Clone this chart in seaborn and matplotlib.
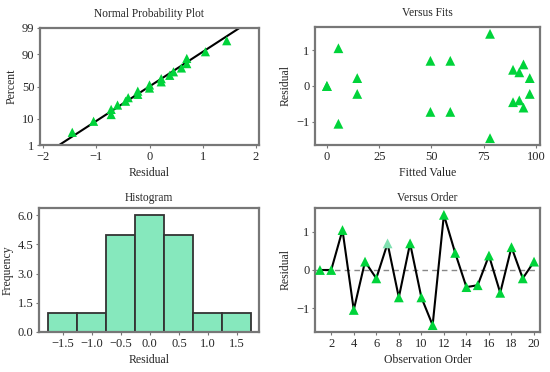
import numpy as np
import pandas as pd
import matplotlib
matplotlib.use("Agg")
import matplotlib.pyplot as plt
import seaborn as sns
from statistics import NormalDist

# residuals in observation order, and the fitted values they belong to
order = list(range(1, 21))
residual = [0.0, 0.0, 1.05, -1.05, 0.22, -0.22, 0.70, -0.72, 0.70, -0.72,
            -1.45, 1.45, 0.45, -0.45, -0.40, 0.38, -0.60, 0.60, -0.22, 0.22]
fitted = [0.0, 0.0, 5.5, 5.5, 14.5, 14.5, 49.5, 49.5, 59.0, 59.0,
          78.0, 78.0, 89.0, 89.0, 92.0, 92.0, 94.0, 94.0, 97.0, 97.0]
prob_ticks = [1, 10, 50, 90, 99]
hist_ticks = [-1.5, -1.0, -0.5, 0.0, 0.5, 1.0, 1.5]
freq_ticks = [0.0, 1.5, 3.0, 4.5, 6.0]

df = pd.DataFrame({"Order": order, "Residual": residual, "Fitted": fitted})

sns.set_theme(style="white")
plt.rcParams["font.family"] = ["Liberation Serif", "DejaVu Serif"]
plt.rcParams["font.size"] = 9

green = "#00d33a"
frame = "#777777"
nd = NormalDist()
tsize = 8.3
lsize = 8.5

fig = plt.figure(figsize=(5.5, 3.72), dpi=100)
W, H = 550, 372
def box(l, t, r, b):
    return fig.add_axes([l / W, 1 - b / H, (r - l) / W, (b - t) / H])

ax1 = box(40, 28, 259, 145)
ax2 = box(315, 27, 540, 145)
ax3 = box(39, 208, 259, 332)
ax4 = box(315, 208, 540, 332)

for ax in [ax1, ax2, ax3, ax4]:
    for s in ax.spines.values():
        s.set_color(frame)
        s.set_linewidth(1.6)
    ax.tick_params(axis="both", which="both", length=2.5, width=0.8, color=frame,
                   labelsize=9, pad=1.5, direction="out", bottom=True, left=True)

# Normal probability plot
srt = np.sort(df["Residual"].values)
n = len(srt)
pct = (np.arange(1, n + 1) - 0.3) / (n + 0.4)
z = np.array([nd.inv_cdf(p) for p in pct])
mu = df["Residual"].mean()
sd = df["Residual"].std()
xs = np.linspace(-2.1, 2.1, 50)
ax1.plot(xs, (xs - mu) / sd, color="black", lw=1.5, zorder=2)
ax1.scatter(srt, z, marker="^", s=44, color=green, edgecolor="none", zorder=3)
ax1.set_ylim(nd.inv_cdf(0.01), nd.inv_cdf(0.99))
ax1.set_yticks([nd.inv_cdf(p / 100) for p in prob_ticks])
ax1.set_yticklabels([str(p) for p in prob_ticks])
ax1.set_xlim(-2.056, 2.056)
ax1.set_xticks([-2, -1, 0, 1, 2])
ax1.set_xticklabels(["\u22122", "\u22121", "0", "1", "2"])
ax1.set_title("Normal Probability Plot", fontsize=tsize, pad=8)
ax1.set_xlabel("Residual", fontsize=lsize, labelpad=3)
ax1.set_ylabel("Percent", fontsize=lsize, labelpad=3)

# Versus Fits
sns.scatterplot(data=df, x="Fitted", y="Residual", ax=ax2, marker="^", s=50,
                color=green, edgecolor="none", zorder=3)
ax2.set_xlim(-5.7, 101.9)
ax2.set_ylim(-1.64, 1.64)
ax2.set_xticks([0, 25, 50, 75, 100])
ax2.set_yticks([-1, 0, 1])
ax2.set_yticklabels(["\u22121", "0", "1"])
ax2.set_title("Versus Fits", fontsize=tsize, pad=8)
ax2.set_xlabel("Fitted Value", fontsize=lsize, labelpad=3)
ax2.set_ylabel("Residual", fontsize=lsize, labelpad=3)

# Histogram
sns.histplot(data=df, x="Residual", ax=ax3, bins=np.arange(-1.75, 1.76, 0.5),
             color="#86e8bd", alpha=1, edgecolor="#333333", linewidth=1.3)
ax3.set_xlim(-1.91, 1.88)
ax3.set_ylim(0, 6.37)
ax3.set_xticks(hist_ticks)
ax3.set_xticklabels([f"{t:.1f}".replace("-", "\u2212") for t in hist_ticks])
ax3.set_yticks(freq_ticks)
ax3.set_yticklabels([f"{t:.1f}" for t in freq_ticks])
ax3.set_title("Histogram", fontsize=tsize, pad=5)
ax3.set_xlabel("Residual", fontsize=lsize, labelpad=3)
ax3.set_ylabel("Frequency", fontsize=lsize, labelpad=3)

# Versus Order
ax4.axhline(0, color="#888888", lw=1, ls=(0, (4, 3)), zorder=1)
sns.lineplot(data=df, x="Order", y="Residual", ax=ax4, color="black", lw=1.5, zorder=2)
cols = [green] * len(order)
cols[6] = "#7fe0b0"
ax4.scatter(df["Order"], df["Residual"], marker="^", s=50, c=cols, edgecolor="none", zorder=3)
ax4.set_xlim(0.56, 20.53)
ax4.set_ylim(-1.63, 1.63)
ax4.set_xticks(list(range(2, 21, 2)))
ax4.set_yticks([-1, 0, 1])
ax4.set_yticklabels(["\u22121", "0", "1"])
ax4.set_title("Versus Order", fontsize=tsize, pad=5)
ax4.set_xlabel("Observation Order", fontsize=lsize, labelpad=3)
ax4.set_ylabel("Residual", fontsize=lsize, labelpad=3)

fig.savefig("out.png", dpi=100)
